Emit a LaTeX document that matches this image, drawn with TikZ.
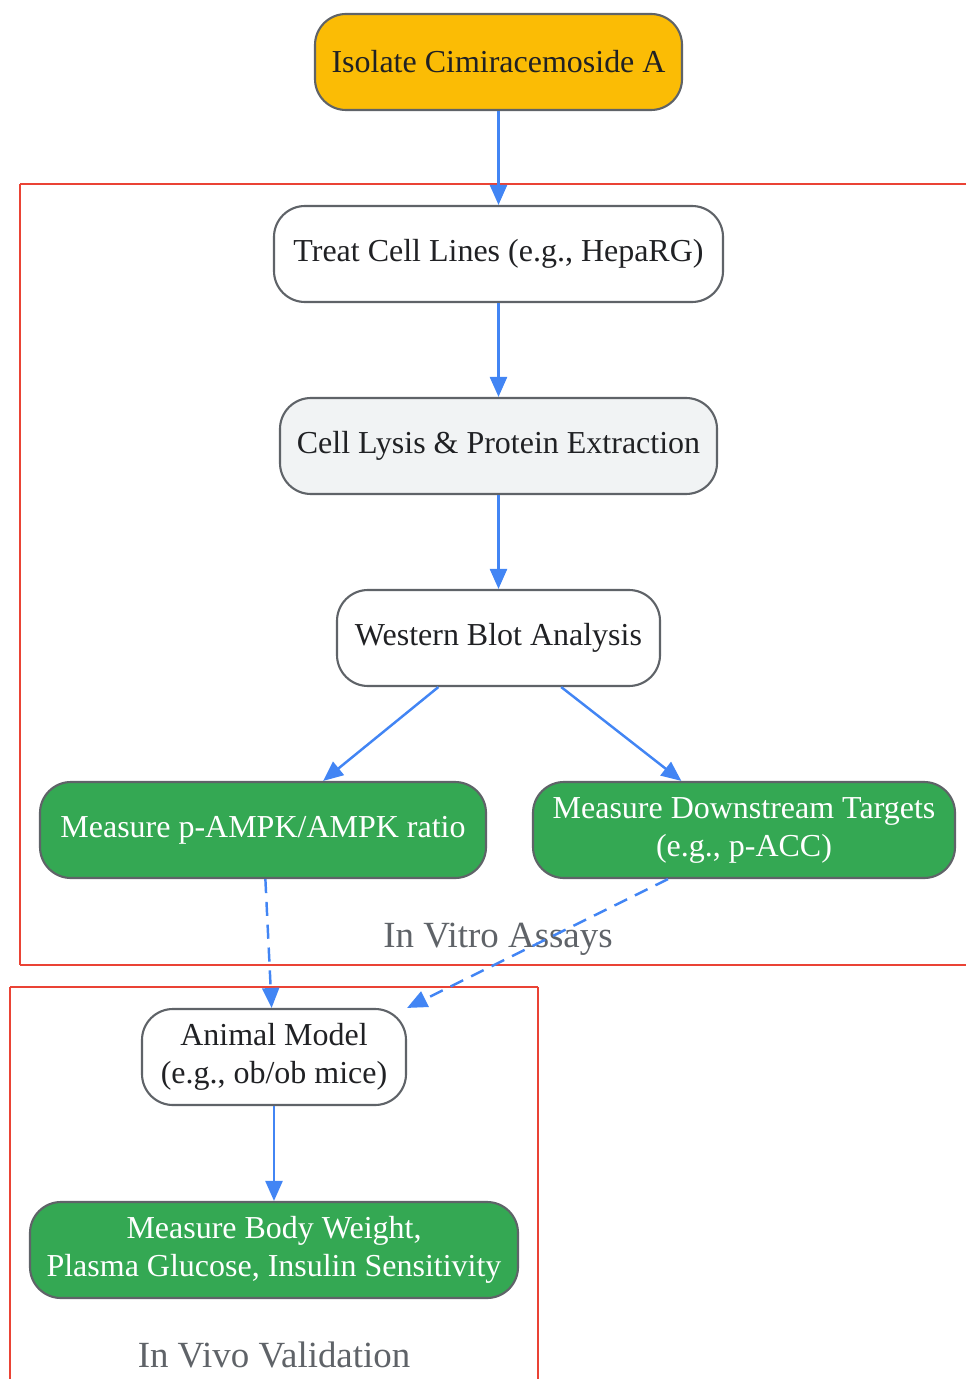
\documentclass[tikz,border=0pt]{standalone}
\usepackage{fontspec}
\setmainfont{Liberation Serif}
\usepackage{tikz}
\usetikzlibrary{arrows.meta,positioning}
\pgfdeclarelayer{edgelayer}
\pgfdeclarelayer{nodelayer}
\pgfsetlayers{edgelayer,nodelayer,main}
\definecolor{gyellow}{HTML}{FBBC05}
\definecolor{ggreen}{HTML}{34A853}
\definecolor{gblue}{HTML}{4285F4}
\definecolor{gred}{HTML}{EA4335}
\definecolor{ggrey}{HTML}{5F6368}
\definecolor{lgrey}{HTML}{F1F3F4}
\definecolor{darktext}{HTML}{202124}
\tikzstyle{none}=[inner sep=0pt]
\tikzstyle{stage}=[rectangle,rounded corners=0.62cm,draw=ggrey,line width=1.2pt,minimum height=1.92cm,align=center,text=darktext,font=\fontsize{18.2}{21.6}\selectfont]
\tikzstyle{start}=[style=stage,fill=gyellow]
\tikzstyle{plain}=[style=stage,fill=white]
\tikzstyle{prep}=[style=stage,fill=lgrey]
\tikzstyle{readout}=[style=stage,fill=ggreen,text=white]
\tikzstyle{clusterlabel}=[inner sep=0pt,text=ggrey,font=\fontsize{21}{24}\selectfont]
\tikzstyle{flow}=[-{Triangle[length=4mm,width=3.4mm]},draw=gblue,line width=1.4pt]
\tikzstyle{weakflow}=[style=flow,dash pattern=on 8pt off 5pt]
\tikzstyle{frame}=[-,draw=gred,line width=1.3pt]

\begin{document}
\begin{tikzpicture}
	\useasboundingbox (0,0) rectangle (19.32,-27.58);
	\begin{pgfonlayer}{nodelayer}
		\node [style=start, minimum width=7.34cm] (Isolate) at (9.97,-1.24) {Isolate Cimiracemoside A};
		\node [style=plain, minimum width=8.98cm] (Treat) at (9.97,-5.08) {Treat Cell Lines (e.g., HepaRG)};
		\node [style=prep, minimum width=8.74cm] (Lysis) at (9.97,-8.92) {Cell Lysis \& Protein Extraction};
		\node [style=plain, minimum width=6.46cm] (Blot) at (9.97,-12.76) {Western Blot Analysis};
		\node [style=readout, minimum width=8.92cm] (Ratio) at (5.26,-16.6) {Measure p-AMPK/AMPK ratio};
		\node [style=readout, minimum width=8.44cm] (Targets) at (14.88,-16.6) {Measure Downstream Targets\\(e.g., p-ACC)};
		\node [style=plain, minimum width=5.28cm] (Mice) at (5.48,-21.14) {Animal Model\\(e.g., ob/ob mice)};
		\node [style=readout, minimum width=9.76cm] (Weight) at (5.48,-25.0) {Measure Body Weight,\\Plasma Glucose, Insulin Sensitivity};
		\node [style=clusterlabel] (Vitro) at (9.96,-18.78) {In Vitro Assays};
		\node [style=clusterlabel] (Vivo) at (5.48,-27.1) {In Vivo Validation};
		\node [style=none] (VTL) at (0.4,-3.68) {};
		\node [style=none] (VTR) at (19.32,-3.68) {};
		\node [style=none] (VBR) at (19.32,-19.3) {};
		\node [style=none] (VBL) at (0.4,-19.3) {};
		\node [style=none] (WTL) at (0.2,-19.74) {};
		\node [style=none] (WTR) at (10.76,-19.74) {};
		\node [style=none] (WBR) at (10.76,-27.58) {};
		\node [style=none] (WBL) at (0.2,-27.58) {};
	\end{pgfonlayer}
	\begin{pgfonlayer}{edgelayer}
		\draw [style=frame] (VTR.center) to (VTL.center);
		\draw [style=frame] (VTL.center) to (VBL.center);
		\draw [style=frame] (VBL.center) to (VBR.center);
		\draw [style=frame] (WBL.center) to (WTL.center);
		\draw [style=frame] (WTL.center) to (WTR.center);
		\draw [style=frame] (WTR.center) to (WBR.center);
	\end{pgfonlayer}
	\draw [style=flow] (Isolate) to (Treat);
	\draw [style=flow] (Treat) to (Lysis);
	\draw [style=flow] (Lysis) to (Blot);
	\draw [style=flow] (Blot) to (Ratio);
	\draw [style=flow] (Blot) to (Targets);
	\draw [style=weakflow] (Ratio) to (Mice);
	\draw [style=weakflow] ([xshift=-1.52cm]Targets.south) to (Mice.north east);
	\draw [style=flow] (Mice) to (Weight);
\end{tikzpicture}
\end{document}
